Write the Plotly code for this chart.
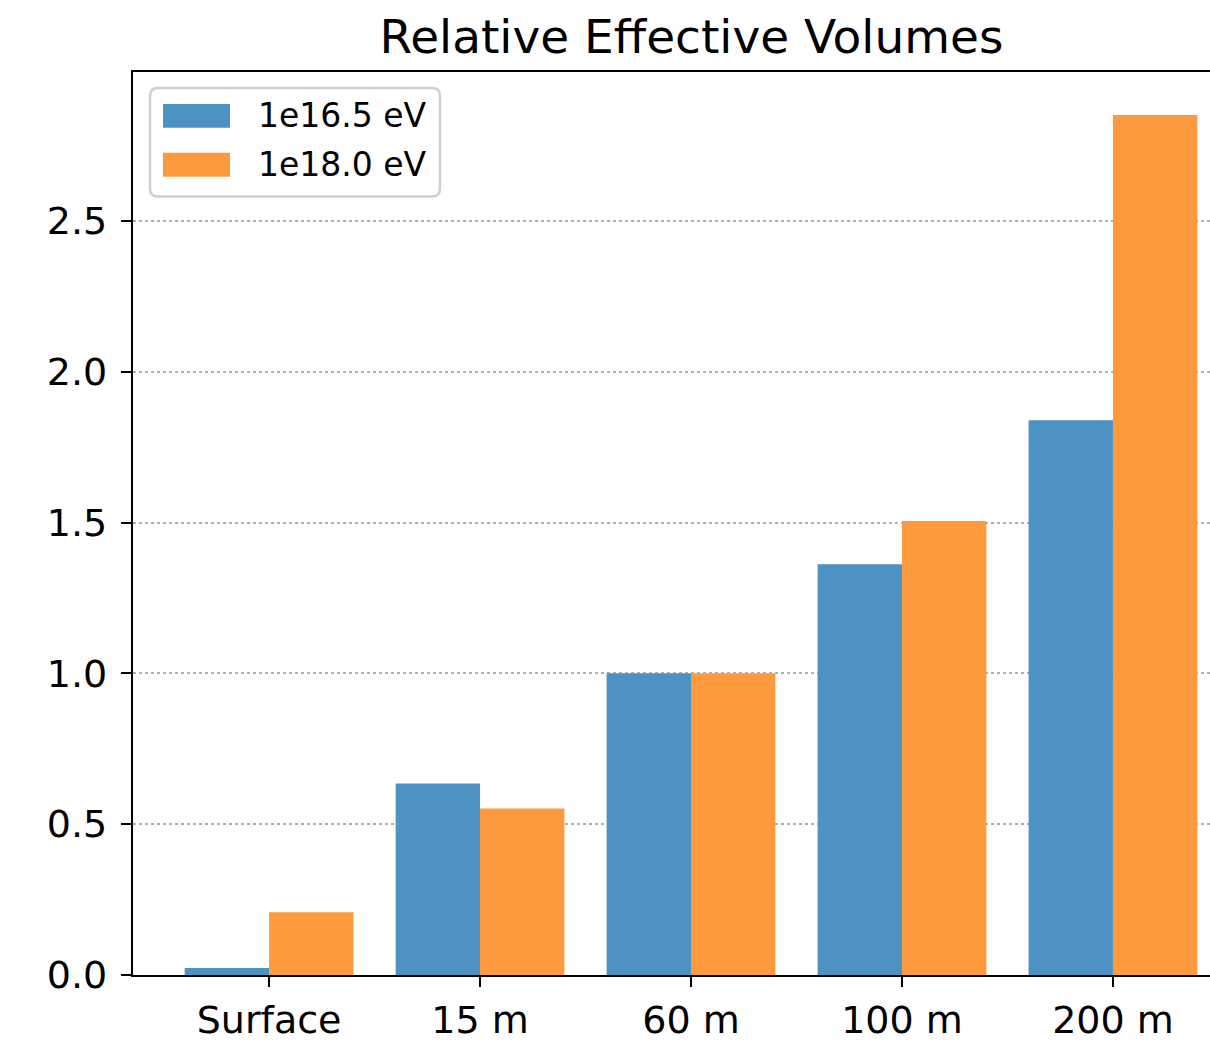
import plotly.graph_objects as go

categories = ["Surface", "15 m", "60 m", "100 m", "200 m"]
series_names = ["1e16.5 eV", "1e18.0 eV"]
vol_165 = [0.023, 0.635, 1.0, 1.362, 1.839]
vol_180 = [0.208, 0.552, 1.0, 1.505, 2.851]
colors = ["#4c92c3", "#ff993e"]
title = "Relative Effective Volumes"
ytick_vals = [0.0, 0.5, 1.0, 1.5, 2.0, 2.5]

W, H = 1210, 1042
ML, MR, MT, MB = 133, 0, 72, 64
PW, PH = W - ML - MR, H - MT - MB

FONT = "DejaVu Sans"

fig = go.Figure()
for name, vals, col in zip(series_names, [vol_165, vol_180], colors):
    fig.add_trace(go.Bar(x=categories, y=vals, name=name, marker_color=col,
                         marker_line_width=0, showlegend=False))

fig.update_layout(
    width=W, height=H,
    margin=dict(l=ML, r=MR, t=MT, b=MB, pad=0),
    paper_bgcolor="white", plot_bgcolor="white",
    barmode="group", bargap=0.2, bargroupgap=0,
    font=dict(family=FONT, size=38, color="black"),
    title=dict(text=title, font=dict(family=FONT, size=47, color="black"),
               x=691.5 / W, xanchor="center", xref="container",
               y=1 - 37 / H, yanchor="middle", yref="container"),
)
fig.update_xaxes(
    range=[-0.645, 4.46], showgrid=False, showline=True, linecolor="black",
    linewidth=2.2, mirror=True, ticks="outside", ticklen=10, tickwidth=2.2,
    tickcolor="black", tickfont=dict(family=FONT, size=38), zeroline=False,
)
fig.update_yaxes(
    range=[0, 2.9936], tickvals=ytick_vals, tickformat=".1f",
    showgrid=True, gridcolor="#b0b0b0", griddash="dot", gridwidth=2,
    showline=True, linecolor="black", linewidth=2.2, mirror=False,
    ticks="outside", ticklen=10, tickwidth=2.2, tickcolor="black",
    tickfont=dict(family=FONT, size=38), zeroline=False, ticklabelstandoff=6,
)

# legend box drawn manually (matplotlib-style)
def px_x(x):
    return (x - ML) / PW

def px_y(y):
    return (H - MB - y) / PH

x0, x1, y0, y1, r = 150, 440, 88, 197, 8
path = (f"M {px_x(x0 + r)} {px_y(y0)} L {px_x(x1 - r)} {px_y(y0)} "
        f"Q {px_x(x1)} {px_y(y0)} {px_x(x1)} {px_y(y0 + r)} "
        f"L {px_x(x1)} {px_y(y1 - r)} Q {px_x(x1)} {px_y(y1)} {px_x(x1 - r)} {px_y(y1)} "
        f"L {px_x(x0 + r)} {px_y(y1)} Q {px_x(x0)} {px_y(y1)} {px_x(x0)} {px_y(y1 - r)} "
        f"L {px_x(x0)} {px_y(y0 + r)} Q {px_x(x0)} {px_y(y0)} {px_x(x0 + r)} {px_y(y0)} Z")
fig.add_shape(type="path", path=path, xref="paper", yref="paper",
              line=dict(color="#d0d0d0", width=2.5), fillcolor="rgba(255,255,255,0.8)",
              layer="above")
for i, (name, col) in enumerate(zip(series_names, colors)):
    cy = 116 + i * 49
    fig.add_shape(type="rect", xref="paper", yref="paper",
                  x0=px_x(163), x1=px_x(230), y0=px_y(cy - 12), y1=px_y(cy + 12),
                  fillcolor=col, line_width=0, layer="above")
    fig.add_annotation(text=name, xref="paper", yref="paper", x=px_x(256), y=px_y(cy),
                       xanchor="left", yanchor="middle", showarrow=False,
                       font=dict(family=FONT, size=33, color="black"))

fig.write_html("out.html")
